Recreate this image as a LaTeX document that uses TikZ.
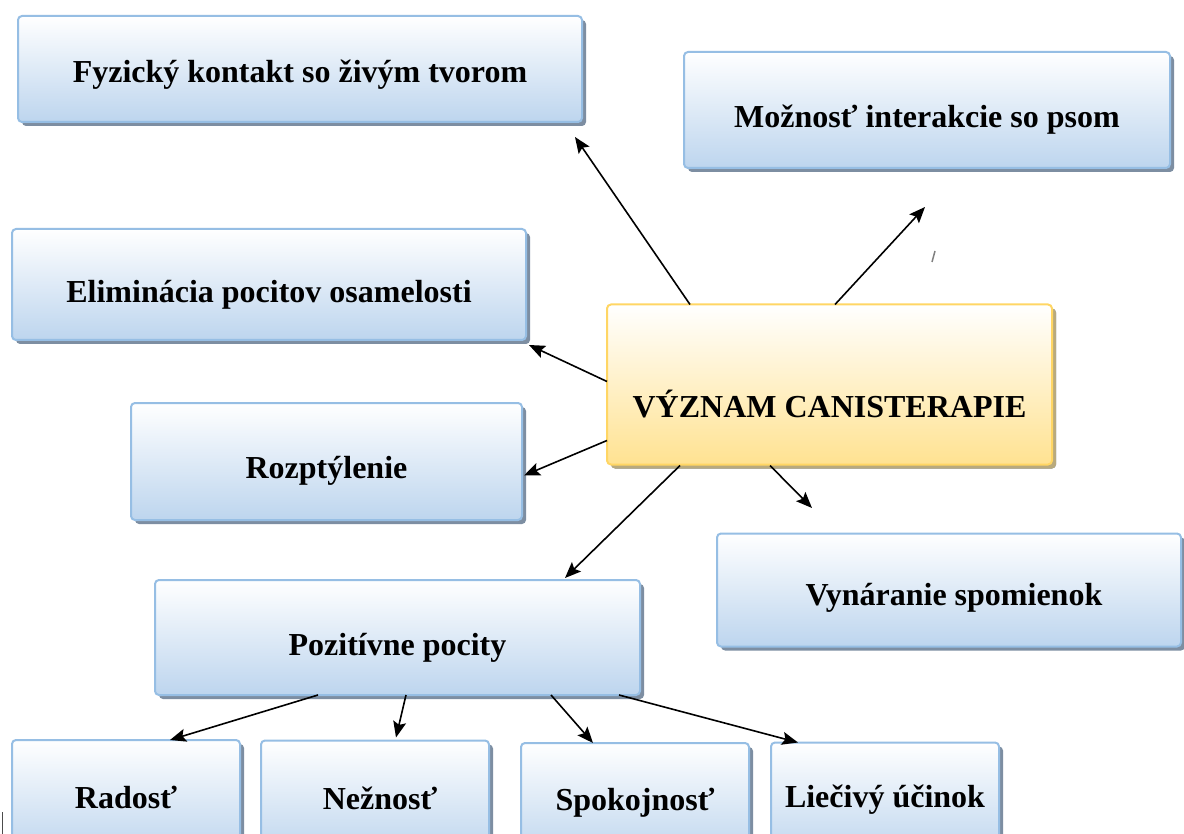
\documentclass[tikz,border=0pt]{standalone}
\usepackage{fontspec}
\setmainfont{Liberation Serif}
\usetikzlibrary{calc,shadows,arrows.meta}
\definecolor{bfill}{RGB}{189,213,238}
\definecolor{bdraw}{RGB}{150,190,228}
\definecolor{bshadow}{RGB}{125,142,162}
\definecolor{yfill}{RGB}{255,226,145}
\definecolor{ydraw}{RGB}{255,214,100}
\definecolor{yshadow}{RGB}{185,170,125}
\tikzset{
  box/.style={draw=bdraw, line width=2pt, rounded corners=4pt, top color=white, bottom color=bfill,
    general shadow={shadow xshift=4pt, shadow yshift=-4pt, fill=bshadow},
    inner sep=0pt, outer sep=0pt},
  mainbox/.style={box, draw=ydraw, top color=white, bottom color=yfill,
    general shadow={shadow xshift=4pt, shadow yshift=-4pt, fill=yshadow}},
  tl/.style={font=\fontsize{32}{38}\selectfont\bfseries, inner sep=0pt, label distance=0pt},
  arr/.style={line width=1.6pt, -{Stealth[length=16pt,width=13pt,inset=3pt]}}
}
\begin{document}
\begin{tikzpicture}[x=1pt,y=-1pt]
\useasboundingbox[fill=white] (0,0) rectangle (1184,834);
\node[box, minimum width=564pt, minimum height=106pt, label={[tl,yshift=-6pt]center:Fyzický kontakt so živým tvorom}] (f) at (300,69) {};
\node[box, minimum width=486pt, minimum height=116pt, label={[tl,yshift=-10pt]center:Možnosť interakcie so psom}] (m) at (927,110) {};
\node[box, minimum width=514pt, minimum height=111pt, label={[tl,yshift=-10pt]center:Eliminácia pocitov osamelosti}] (e) at (269,284.5) {};
\node[box, minimum width=391pt, minimum height=117pt, label={[tl,yshift=-9pt]center:Rozptýlenie}] (r) at (326.5,461.5) {};
\node[mainbox, minimum width=445pt, minimum height=160pt, label={[tl,yshift=-20pt]center:VÝZNAM CANISTERAPIE}] (c) at (829.5,384.5) {};
\node[box, minimum width=464pt, minimum height=113pt, label={[tl,xshift=5pt,yshift=-8pt]center:Vynáranie spomienok}] (v) at (949,590) {};
\node[box, minimum width=485pt, minimum height=115pt, label={[tl,yshift=-10pt]center:Pozitívne pocity}] (p) at (397.5,637.5) {};
\node[box, minimum width=228pt, minimum height=115pt, label={[tl]center:Radosť}] (ra) at (126,797.5) {};
\node[box, minimum width=228pt, minimum height=115pt, label={[tl,xshift=5pt]center:Nežnosť}] (ne) at (375,798) {};
\node[box, minimum width=228pt, minimum height=115pt, label={[tl,yshift=-2pt]center:Spokojnosť}] (sp) at (635,800.5) {};
\node[box, minimum width=228pt, minimum height=115pt, label={[tl]center:Liečivý účinok}] (li) at (885,800) {};
\coordinate (fr1) at (925,207);
\coordinate (fr2) at (812,508);
\draw[arr] ($(c.north west)+(83,0)$) -- ($(f.south east)+(-7,15)$);
\draw[arr] ($(c.north west)+(228,0)$) -- (fr1);
\draw[arr] ($(c.north west)+(0,77)$) -- ($(e.south east)+(3,5)$);
\draw[arr] ($(c.north west)+(0,136)$) -- ($(r.east)+(2,14)$);
\draw[arr] ($(c.south west)+(73,1)$) -- ($(p.north west)+(410,-2)$);
\draw[arr] ($(c.south west)+(163,1)$) -- (fr2);
\draw[arr] ($(p.south west)+(163,0)$) -- ($(ra.north west)+(158,0)$);
\draw[arr] ($(p.south west)+(251,0)$) -- ($(ne.north west)+(135,-3)$);
\draw[arr] ($(p.south west)+(396,0)$) -- ($(sp.north west)+(72,0)$);
\draw[arr] ($(p.south west)+(464,0)$) -- ($(li.north west)+(27,0)$);
\draw[gray, line width=1.5pt] (935,251) -- (932,262);
\draw[black!70, line width=1pt] (2,812) -- (2,834);
\end{tikzpicture}
\end{document}
